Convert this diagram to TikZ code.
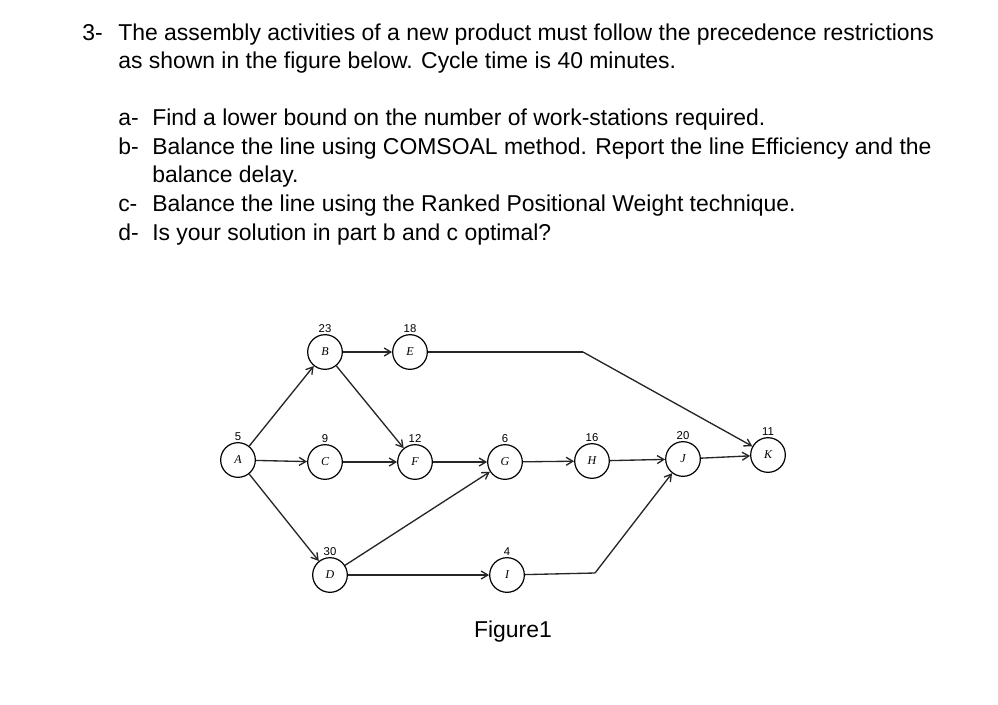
\documentclass[tikz,border=0pt]{standalone}
\usepackage{fontspec}
\setmainfont{Liberation Sans}
\usetikzlibrary{arrows.meta}
\begin{document}
\begin{tikzpicture}[x=0.75pt,y=-0.75pt,
  act/.style={circle,draw,line width=0.9pt,minimum size=26pt,inner sep=0pt,font=\fontspec{Liberation Serif}\itshape\small},
  wt/.style={font=\fontsize{8.5}{9}\selectfont,inner sep=1pt},
  edge/.style={line width=1pt,-{Straight Barb[length=5pt,width=6pt]},draw=black!85},
  plain/.style={line width=1pt,draw=black!85},
  q/.style={anchor=west,font=\fontsize{17.2}{20}\selectfont,inner sep=0pt,text height=12.5pt,text depth=3.5pt}]
\useasboundingbox (0,0) rectangle (998,704);
\node[q] (t0) at (82,34) {3-};
\node[q] (t1) at (118,34) {The assembly activities of a new product must follow the precedence restrictions};
\node[q] (t2) at (118,62) {as shown in the figure below. Cycle time is 40 minutes.};
\node[q] (la) at (118,119) {a-};
\node[q] (a) at (152,119) {Find a lower bound on the number of work-stations required.};
\node[q] (lb) at (118,148) {b-};
\node[q] (b) at (152,148) {Balance the line using COMSOAL method. Report the line Efficiency and the};
\node[q] (b2) at (152,176) {balance delay.};
\node[q] (lc) at (118,205) {c-};
\node[q] (c) at (152,205) {Balance the line using the Ranked Positional Weight technique.};
\node[q] (ld) at (118,234) {d-};
\node[q] (d) at (152,234) {Is your solution in part b and c optimal?};
\node[font=\fontsize{17.2}{20}\selectfont] (fig) at (513,632) {Figure1};

\node[act] (A) at (238,460) {A};
\node[act] (B) at (325,352) {B};
\node[act] (E) at (410,352) {E};
\node[act] (C) at (325,462) {C};
\node[act] (F) at (415,462) {F};
\node[act] (G) at (505,462) {G};
\node[act] (H) at (592,461) {H};
\node[act] (J) at (683,459) {J};
\node[act] (K) at (768,455) {K};
\node[act] (D) at (330,575) {D};
\node[act] (I) at (507,575) {I};
\foreach \n/\w in {A/5,B/23,E/18,C/9,F/12,G/6,H/16,J/20,K/11,D/30,I/4}
  \node[wt,above] (w\n) at (\n.north) {\w};
\coordinate (e1) at (583,352);
\coordinate (i1) at (595,573);
\draw[edge] (A) -- (B);
\draw[edge] (A) -- (C);
\draw[edge] (A) -- (D);
\draw[edge] (B) -- (E);
\draw[edge] (B) -- (F);
\draw[edge] (C) -- (F);
\draw[edge] (F) -- (G);
\draw[edge] (D) -- (G);
\draw[edge] (D) -- (I);
\draw[edge] (G) -- (H);
\draw[edge] (H) -- (J);
\draw[edge] (J) -- (K);
\draw[plain] (E) -- (e1);
\draw[edge] (e1) -- (K);
\draw[plain] (I) -- (i1);
\draw[edge] (i1) -- (J);
\end{tikzpicture}
\end{document}
